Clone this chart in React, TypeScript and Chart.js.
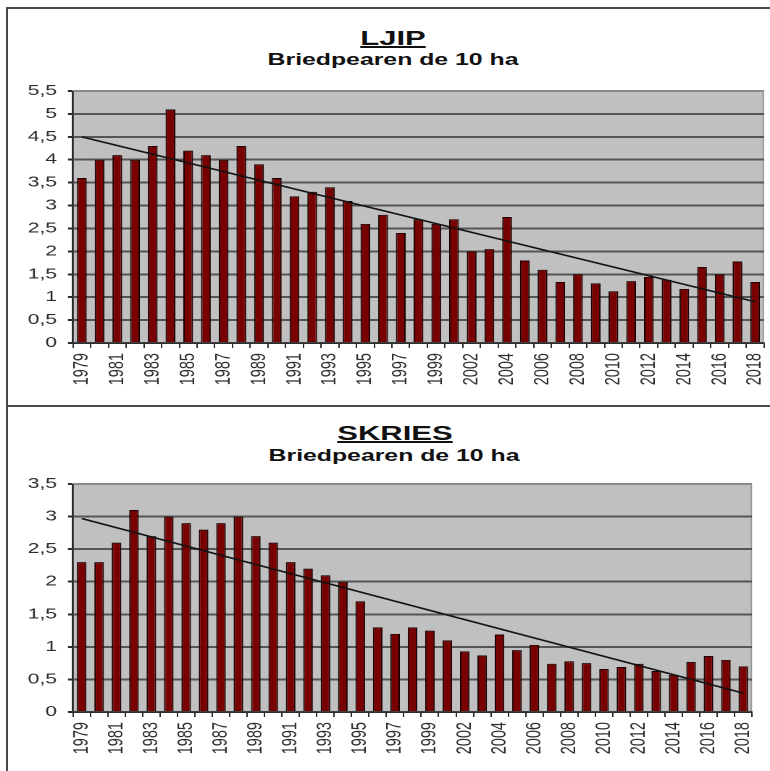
import React, { useEffect, useRef } from 'react';
import { Chart, registerables } from 'chart.js';

Chart.register(...registerables);

// ---------- data ----------
const YEARS = [
  '1979', '1980', '1981', '1982', '1983', '1984', '1985', '1986', '1987', '1988',
  '1989', '1990', '1991', '1992', '1993', '1994', '1995', '1996', '1997', '1998',
  '1999', '2000', '2002', '2003', '2004', '2005', '2006', '2007', '2008', '2009',
  '2010', '2011', '2012', '2013', '2014', '2015', '2016', '2017', '2018',
];

const LJIP_VALUES = [
  3.6, 4.0, 4.1, 4.0, 4.3, 5.1, 4.2, 4.1, 4.0, 4.3,
  3.9, 3.6, 3.2, 3.3, 3.4, 3.1, 2.6, 2.8, 2.4, 2.7,
  2.6, 2.7, 2.0, 2.05, 2.75, 1.8, 1.6, 1.33, 1.5, 1.3,
  1.13, 1.35, 1.44, 1.38, 1.18, 1.66, 1.5, 1.78, 1.33,
];

const SKRIES_VALUES = [
  2.3, 2.3, 2.6, 3.1, 2.7, 3.0, 2.9, 2.8, 2.9, 3.0,
  2.7, 2.6, 2.3, 2.2, 2.1, 2.0, 1.7, 1.3, 1.2, 1.3,
  1.25, 1.1, 0.93, 0.87, 1.19, 0.95, 1.03, 0.74, 0.78, 0.75,
  0.66, 0.69, 0.74, 0.63, 0.57, 0.77, 0.86, 0.8, 0.7,
];

// trend line: value at first year, value at last year
const LJIP_TREND = [4.5, 0.9];
const SKRIES_TREND = [2.97, 0.29];

const LJIP_Y_TICKS = ['0', '0,5', '1', '1,5', '2', '2,5', '3', '3,5', '4', '4,5', '5', '5,5'];
const SKRIES_Y_TICKS = ['0', '0,5', '1', '1,5', '2', '2,5', '3', '3,5'];

const LJIP_TITLE = 'LJIP';
const SKRIES_TITLE = 'SKRIES';
const SUBTITLE = 'Briedpearen de 10 ha';

// ---------- styling ----------
const FONT = "'Liberation Sans', Arial, sans-serif";
const STRETCH = 1.45; // horizontal stretch of the original picture
const BAR_FILL = '#780000';
const BAR_EDGE = '#1c0000';
const PLOT_BG = '#c0c0c0';

type Area = { left: number; right: number; top: number; bottom: number };

const plotBg = {
  id: 'plotBg',
  beforeDraw(chart: any) {
    const { ctx, chartArea: a } = chart;
    ctx.save();
    ctx.fillStyle = PLOT_BG;
    ctx.fillRect(a.left, a.top, a.right - a.left, a.bottom - a.top);
    ctx.strokeStyle = '#9a9a9a';
    ctx.lineWidth = 1;
    ctx.beginPath();
    ctx.moveTo(a.right - 0.5, a.top);
    ctx.lineTo(a.right - 0.5, a.bottom);
    ctx.stroke();
    ctx.restore();
  },
};

function BarPanel(props: {
  values: number[];
  trend: number[];
  yTicks: string[];
  yMax: number;
  x: number;
  y: number;
  w: number;
  h: number;
  area: Area;
}) {
  const ref = useRef<HTMLCanvasElement | null>(null);
  const { values, trend, yTicks, yMax, x, y, w, h, area } = props;

  useEffect(() => {
    const canvas = ref.current;
    if (!canvas) return;
    const iw = Math.round(w / STRETCH);
    const sx = w / iw;
    canvas.width = iw;
    canvas.height = h;
    canvas.style.width = w + 'px';
    canvas.style.height = h + 'px';

    const leftW = (area.left - x) / sx;
    const padRight = iw - (area.right - x) / sx;
    const padTop = area.top - y;
    const xH = h - (area.bottom - y);
    const last = YEARS.length - 1;
    const trendData = YEARS.map((_, i) => (i === 0 ? trend[0] : i === last ? trend[1] : null));

    const chart = new Chart(canvas, {
      type: 'bar',
      data: {
        labels: YEARS,
        datasets: [
          {
            type: 'line' as const,
            data: trendData as any,
            borderColor: '#141414',
            borderWidth: 1.6,
            pointRadius: 0,
            spanGaps: true,
            fill: false,
            order: 0,
          },
          {
            type: 'bar' as const,
            data: values,
            backgroundColor: BAR_FILL,
            borderColor: BAR_EDGE,
            borderWidth: 1,
            barPercentage: 0.55,
            categoryPercentage: 1,
            order: 1,
          },
        ],
      },
      options: {
        animation: false,
        responsive: false,
        devicePixelRatio: 2,
        layout: { padding: { left: 0, right: padRight, top: padTop, bottom: 0 } },
        plugins: {
          legend: { display: false },
          tooltip: { enabled: false },
          title: { display: false },
        },
        scales: {
          x: {
            offset: true,
            grid: {
              display: true,
              drawOnChartArea: false,
              drawTicks: true,
              tickLength: 5,
              tickColor: '#2a2a2a',
              offset: true,
            },
            border: { display: true, color: '#2a2a2a', width: 1.4 },
            ticks: {
              autoSkip: false,
              maxRotation: 90,
              minRotation: 90,
              padding: 5,
              color: '#2e2e2e',
              font: { family: FONT, size: 14.5 },
              callback: (_v: any, i: number) => (i % 2 === 0 ? YEARS[i] : ''),
            },
            afterFit: (s: any) => {
              s.height = xH;
              s.paddingLeft = 0;
              s.paddingRight = 0;
            },
          },
          y: {
            min: 0,
            max: yMax,
            ticks: {
              stepSize: 0.5,
              padding: 11 / sx,
              color: '#2e2e2e',
              font: { family: FONT, size: 14.5 },
              callback: (v: any) => yTicks[Math.round(Number(v) * 2)],
            },
            grid: {
              color: (c: any) => (c.tick && c.tick.value === yMax ? '#8a8a8a' : '#555'),
              lineWidth: 2,
              drawTicks: true,
              tickLength: 5 / sx,
              tickColor: '#2a2a2a',
            },
            border: { display: true, color: '#2a2a2a', width: 1.4 },
            afterFit: (s: any) => {
              s.width = leftW;
            },
          },
        },
      },
      plugins: [plotBg],
    } as any);

    return () => chart.destroy();
  }, []);

  return (
    <canvas
      ref={ref}
      style={{ position: 'absolute', left: x, top: y, width: w, height: h }}
    />
  );
}

function Title(props: { text: string; x: number; top: number; size: number; underline?: boolean }) {
  return (
    <div
      style={{
        position: 'absolute',
        left: props.x,
        top: props.top,
        transform: `translateX(-50%) scaleX(${STRETCH + 0.1})`,
        transformOrigin: 'center',
        whiteSpace: 'nowrap',
        fontFamily: FONT,
        fontWeight: 'bold',
        fontSize: props.size,
        lineHeight: props.size + 'px',
        color: '#111',
        textDecoration: props.underline ? 'underline' : 'none',
      }}
    >
      {props.text}
    </div>
  );
}

export default function App() {
  const line = '#4a4a4a';
  return (
    <div
      style={{
        position: 'absolute',
        left: 0,
        top: 0,
        width: 770,
        height: 771,
        overflow: 'hidden',
        background: '#fff',
      }}
    >
      {/* frame lines */}
      <div style={{ position: 'absolute', left: 6, top: 7, width: 764, height: 1.5, background: line }} />
      <div style={{ position: 'absolute', left: 6, top: 7, width: 1.5, height: 764, background: line }} />
      <div style={{ position: 'absolute', left: 6, top: 405, width: 764, height: 1.5, background: line }} />

      <Title text={LJIP_TITLE} x={393} top={28} size={20} underline />
      <Title text={SUBTITLE} x={393} top={51.5} size={16} />
      <BarPanel
        values={LJIP_VALUES}
        trend={LJIP_TREND}
        yTicks={LJIP_Y_TICKS}
        yMax={5.5}
        x={8}
        y={9}
        w={762}
        h={396}
        area={{ left: 73, right: 764, top: 91, bottom: 343 }}
      />

      <Title text={SKRIES_TITLE} x={395} top={423} size={20} underline />
      <Title text={SUBTITLE} x={394} top={447.5} size={16} />
      <BarPanel
        values={SKRIES_VALUES}
        trend={SKRIES_TREND}
        yTicks={SKRIES_Y_TICKS}
        yMax={3.5}
        x={8}
        y={407}
        w={762}
        h={364}
        area={{ left: 73, right: 752, top: 484, bottom: 712 }}
      />
    </div>
  );
}
